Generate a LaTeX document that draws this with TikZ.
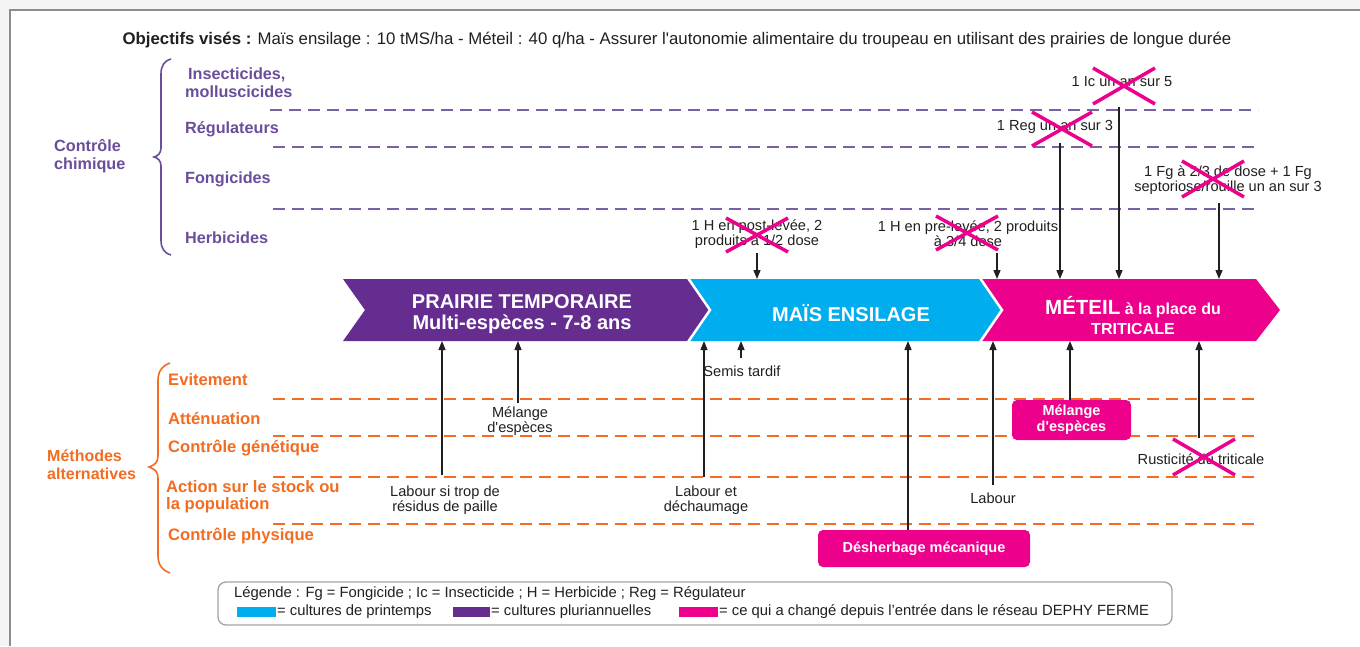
\documentclass[tikz,border=0pt]{standalone}
\usepackage{fontspec}
\setmainfont{Liberation Sans}[Ligatures=TeXOff]
\usetikzlibrary{arrows.meta}
\definecolor{txt}{HTML}{231F20}
\definecolor{purT}{HTML}{6B4E9B}
\definecolor{purL}{HTML}{7A61A3}
\definecolor{purC}{HTML}{662D91}
\definecolor{oraT}{HTML}{F36C21}
\definecolor{bluC}{HTML}{00AEEF}
\definecolor{pinC}{HTML}{EC008C}
\definecolor{frame}{HTML}{8C8C8C}
\definecolor{outbg}{HTML}{F4F4F4}
\tikzset{
  x=1pt, y=-1pt,
  plab/.style={anchor=west, text=purT, font=\fontsize{16.2}{18}\selectfont\bfseries, align=left, inner sep=0pt},
  olab/.style={anchor=west, text=oraT, font=\fontsize{16.6}{17}\selectfont\bfseries, align=left, inner sep=0pt},
  slab/.style={text=txt, font=\fontsize{14.6}{15}\selectfont, align=center, inner sep=0pt},
  pdash/.style={draw=purL, line width=2.2pt, dash pattern=on 12pt off 7pt},
  odash/.style={draw=oraT, line width=2.2pt, dash pattern=on 12pt off 7pt},
  arr/.style={draw=txt, line width=1.4pt, -{Triangle[length=9pt,width=7pt]}},
  xmark/.style={draw=pinC, line width=3.5pt},
  pbox/.style={fill=pinC, rounded corners=5pt, text=white, font=\fontsize{14.5}{16}\selectfont\bfseries, align=center},
  chtext/.style={text=white, font=\fontsize{20}{21}\selectfont\bfseries, align=center, inner sep=0pt},
  legtext/.style={anchor=west, text=txt, font=\fontsize{14.8}{15}\selectfont, inner sep=0pt},
}
\newcommand{\xcross}[4]{\draw[xmark] (#1-#3,#2-#4) -- (#1+#3,#2+#4); \draw[xmark] (#1-#3,#2+#4) -- (#1+#3,#2-#4);}
\begin{document}
\begin{tikzpicture}
\useasboundingbox (0,0) rectangle (1360,646);
% frame
\fill[outbg] (0,0) rectangle (1360,646);
\fill[white] (11,11) rectangle (1360,646);
\draw[frame, line width=2pt] (10,646) -- (10,10) -- (1360,10);

% header
\node[text=txt, font=\fontsize{16.8}{18}\selectfont, inner sep=0pt] (title) at (677,40) {\textbf{Objectifs visés :} Maïs ensilage : 10 tMS/ha - Méteil : 40 q/ha - Assurer l'autonomie alimentaire du troupeau en utilisant des prairies de longue durée};

% chemical control labels
\node[plab] (chim) at (54,156) {Contrôle\\chimique};
\draw[purT, line width=1.6pt] (171,59) .. controls (164,61) and (161,66) .. (161,74) -- (161,148) .. controls (161,153) and (158,156) .. (154,157) .. controls (158,158) and (161,161) .. (161,166) -- (161,240) .. controls (161,248) and (164,253) .. (171,255);
\node[plab] (insect) at (185,83) {\hspace*{3pt}Insecticides,\\molluscicides};
\node[plab] (regul) at (185,129) {Régulateurs};
\node[plab] (fong) at (185,179) {Fongicides};
\node[plab] (herb) at (185,238) {Herbicides};
\draw[pdash] (270,110) -- (1258,110);
\draw[pdash] (273,147) -- (1258,147);
\draw[pdash] (273,209) -- (1258,209);

% alternative methods labels
\node[olab, font=\fontsize{16}{18}\selectfont\bfseries] (meth) at (47,465) {Méthodes\\alternatives};
\draw[oraT, line width=1.6pt] (170,363) .. controls (163,365) and (158,371) .. (158,380) -- (158,456) .. controls (158,462) and (155,465) .. (149,467) .. controls (155,469) and (158,472) .. (158,478) -- (158,556) .. controls (158,565) and (163,571) .. (170,573);
\node[olab] (evit) at (168,380) {Evitement};
\node[olab] (atten) at (168,418) {Atténuation};
\node[olab] (genet) at (168,448) {Contrôle génétique};
\node[olab] (stock) at (166,497) {Action sur le stock ou\\la population};
\node[olab] (phys) at (168,536) {Contrôle physique};
\draw[odash] (273,399) -- (1260,399);
\draw[odash] (273,436) -- (1260,436);
\draw[odash] (273,477) -- (1260,477);
\draw[odash] (273,524) -- (1260,524);

% chevrons
\fill[purC] (343,279) -- (688,279) -- (710,310) -- (688,341) -- (343,341) -- (365,310) -- cycle;
\fill[bluC] (688,279) -- (980,279) -- (1002,310) -- (980,341) -- (688,341) -- (710,310) -- cycle;
\fill[pinC] (980,279) -- (1256,279) -- (1280,310) -- (1256,341) -- (980,341) -- (1002,310) -- cycle;
\draw[white, line width=2.5pt] (688,278) -- (710,310) -- (688,342);
\draw[white, line width=2.5pt] (980,278) -- (1002,310) -- (980,342);
\node[chtext] (prairie) at (522,314.5) {PRAIRIE TEMPORAIRE\\Multi-espèces - 7-8 ans};
\node[chtext] (mais) at (851,313) {MAÏS ENSILAGE};
\node[chtext, font=\fontsize{16}{20}\selectfont\bfseries] (meteil) at (1133,315) {{\fontsize{20.5}{20}\selectfont MÉTEIL} à la place du\\TRITICALE};

% coordinates on chevrons
\coordinate (t1) at (757,279);
\coordinate (t2) at (997,279);
\coordinate (t3) at (1060,279);
\coordinate (t4) at (1119,279);
\coordinate (t5) at (1219,279);
\coordinate (b1) at (442,341);
\coordinate (b2) at (518,341);
\coordinate (b3) at (704,341);
\coordinate (b4) at (741,341);
\coordinate (b5) at (908,341);
\coordinate (b6) at (993,341);
\coordinate (b7) at (1070,341);
\coordinate (b8) at (1199,341);

% chemical labels + arrows
\node[slab] (postlev) at (757,234) {1 H en post-levée, 2\\produits à 1/2 dose};
\node[slab] (prelev) at (968,234) {1 H en pre-levée, 2 produits\\à 3/4 dose};
\node[slab] (ic) at (1122,82) {1 Ic un an sur 5};
\node[slab] (reg) at (1055,127) {1 Reg un an sur 3};
\node[slab] (fg) at (1228,180) {1 Fg à 2/3 de dose + 1 Fg\\septoriose/rouille un an sur 3};
\coordinate (s1) at (757,253);
\coordinate (s2) at (997,253);
\coordinate (s3) at (1060,143);
\coordinate (s4) at (1119,107);
\coordinate (s5) at (1219,203);
\draw[arr] (s1) -- (t1);
\draw[arr] (s2) -- (t2);
\draw[arr] (s3) -- (t3);
\draw[arr] (s4) -- (t4);
\draw[arr] (s5) -- (t5);

% alternative labels + arrows
\node[slab] (labpaille) at (445,500) {Labour si trop de\\résidus de paille};
\node[slab] (melange1) at (520,421) {Mélange\\d'espèces};
\node[slab] (labdech) at (706,500) {Labour et\\déchaumage};
\node[slab] (semis) at (742,371) {Semis tardif};
\node[slab] (labour) at (993,498) {Labour};
\node[slab] (rustic) at (1201,459) {Rusticité du triticale};
\node[pbox, minimum width=119pt, minimum height=40pt, inner sep=0pt] (melange2) at (1071.5,420) {Mélange\\d'espèces};
\node[pbox, minimum width=212pt, minimum height=37pt, inner sep=0pt] (desherb) at (924,548.5) {Désherbage mécanique};
\coordinate (u1) at (442,475);
\coordinate (u2) at (518,403);
\coordinate (u3) at (704,477);
\coordinate (u4) at (741,358);
\coordinate (u6) at (993,485);
\coordinate (u8) at (1199,438);
\draw[arr] (u1) -- (b1);
\draw[arr] (u2) -- (b2);
\draw[arr] (u3) -- (b3);
\draw[arr] (u4) -- (b4);
\draw[arr] (desherb.north -| b5) -- (b5);
\draw[arr] (u6) -- (b6);
\draw[arr] (melange2.north -| b7) -- (b7);
\draw[arr] (u8) -- (b8);

% crosses
\xcross{1124}{86}{31}{18}
\xcross{1062}{129}{30}{17}
\xcross{1213}{179}{31}{18}
\xcross{757}{235}{31}{17}
\xcross{967}{233}{31}{17}
\xcross{1204}{457}{31}{18}

% legend
\node[draw=frame!80, line width=1.3pt, rounded corners=8pt, minimum width=954pt, minimum height=43pt, inner sep=0pt] (legend) at (695,603.5) {};
\node[legtext] (leg1) at (234,594) {Légende : Fg = Fongicide ; Ic = Insecticide ; H = Herbicide ; Reg = Régulateur};
\fill[bluC] (237,607) rectangle (276,617);
\node[legtext] (leg2) at (277,612) {= cultures de printemps};
\fill[purC] (453,607) rectangle (490,617);
\node[legtext] (leg3) at (491,612) {= cultures pluriannuelles};
\fill[pinC] (679,607) rectangle (718,617);
\node[legtext] (leg4) at (719,612) {= ce qui a changé depuis l’entrée dans le réseau DEPHY FERME};
\end{tikzpicture}
\end{document}
